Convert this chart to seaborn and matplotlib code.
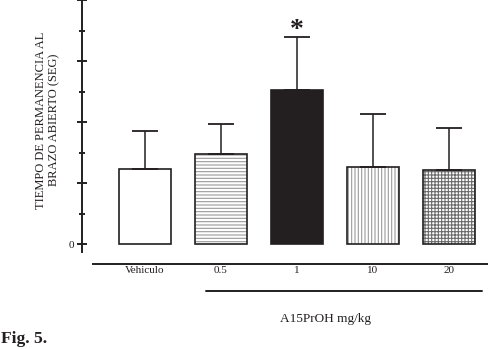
import numpy as np
import matplotlib
matplotlib.use('Agg')
import matplotlib.pyplot as plt
import seaborn as sns
from matplotlib.ticker import MultipleLocator, FuncFormatter

# ---- data ----
groups = ['Vehiculo', '0.5', '1', '10', '20']
means = [24.6, 29.6, 50.5, 25.3, 24.3]
sems = [12.6, 9.8, 17.3, 17.5, 13.7]
fills = ['white', 'white', '#231f20', 'white', 'white']
hatches = ['', '-----', '', '|||||', '+++++']
hatch_colors = ['none', '#9a9a9a', 'none', '#9a9a9a', '#6a6a6a']
y_label = 'TIEMPO DE PERMANENCIA AL\nBRAZO ABIERTO (SEG)'
dose_label = 'A15PrOH mg/kg'
fig_label = 'Fig. 5.'

INK = '#231f20'

sns.set_theme(style='white')
plt.rcParams['font.family'] = ['Liberation Serif', 'DejaVu Serif']
plt.rcParams['hatch.linewidth'] = 0.8

fig = plt.figure(figsize=(4.88, 3.49), dpi=100)
ax = fig.add_axes([0.168, 0.278, 0.832, 0.722])

sns.barplot(x=groups, y=means, hue=groups, palette=fills, legend=False,
            width=0.68, saturation=1, linewidth=0, ax=ax)

# hatch colour follows edgecolor; outline drawn as a separate layer
for p, h, hc in zip(ax.patches, hatches, hatch_colors):
    p.set_hatch(h)
    p.set_edgecolor(hc)
    p.set_linewidth(0)
for p in list(ax.patches):
    ax.add_patch(plt.Rectangle(p.get_xy(), p.get_width(), p.get_height(),
                               fill=False, edgecolor=INK, linewidth=1.2, zorder=2.5))

x = np.arange(len(groups))
ax.errorbar(x, means, yerr=[np.zeros(len(sems)), sems], fmt='none',
            ecolor=INK, elinewidth=1.1, capsize=9.4, capthick=1.3, zorder=3)

# significance mark above the 1 mg/kg bar
ax.text(2, means[2] + sems[2], '*', ha='center', va='baseline', fontsize=20,
        fontweight='bold', color=INK)

# ---- axes ----
ax.set_ylim(-2.5, 80)
ax.set_xlim(-0.829, 4.513)
ax.yaxis.set_major_locator(MultipleLocator(20))
ax.yaxis.set_minor_locator(MultipleLocator(10))
ax.yaxis.set_major_formatter(FuncFormatter(lambda v, pos: '0' if v == 0 else ''))
ax.tick_params(axis='y', which='major', direction='inout', length=7.9, width=1.4,
               color=INK, labelsize=8, pad=1.5, labelcolor=INK, left=True)
ax.tick_params(axis='y', which='minor', direction='inout', length=5, width=1.4,
               color=INK, left=True)
ax.tick_params(axis='x', length=0, labelsize=8, pad=1.5, labelcolor=INK)

for s in ['top', 'right']:
    ax.spines[s].set_visible(False)
ax.spines['left'].set_linewidth(1.4)
ax.spines['left'].set_color(INK)
ax.spines['bottom'].set_linewidth(1.4)
ax.spines['bottom'].set_color(INK)
ax.spines['bottom'].set_position(('outward', 8.4))
ax.spines['bottom'].set_bounds(-0.684, 4.513)

ax.set_xlabel('')
ax.set_ylabel(y_label, fontsize=9, color=INK, linespacing=1.1)
ax.yaxis.set_label_coords(-0.054, 0.524)

# dose bracket under the treated groups
ax.plot([0.8, 4.43], [-15.3, -15.3], color=INK, lw=1.4, clip_on=False)
ax.text(2.37, -25.4, dose_label, ha='center', va='baseline', fontsize=9.5,
        color=INK, clip_on=False)

fig.text(0.002, 0.017, fig_label, fontsize=12.6, fontweight='bold', color=INK,
         ha='left', va='baseline')

fig.savefig('out.png', dpi=100)
